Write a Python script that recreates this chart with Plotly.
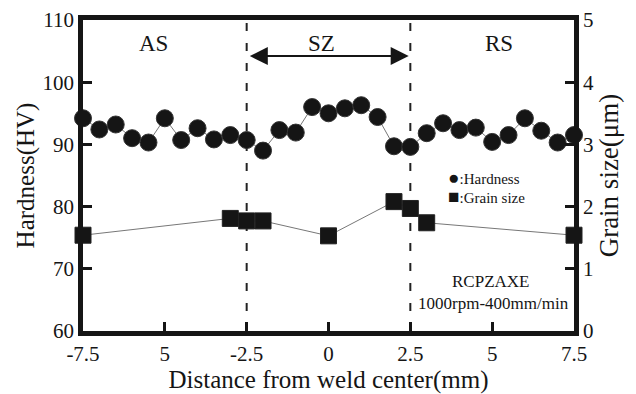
import plotly.graph_objects as go

# ---- data ----
hardness_x = [-7.5, -7.0, -6.5, -6.0, -5.5, -5.0, -4.5, -4.0, -3.5, -3.0, -2.5,
              -2.0, -1.5, -1.0, -0.5, 0.0, 0.5, 1.0, 1.5, 2.0, 2.5,
              3.0, 3.5, 4.0, 4.5, 5.0, 5.5, 6.0, 6.5, 7.0, 7.5]
hardness_hv = [94.2, 92.4, 93.2, 91.0, 90.3, 94.2, 90.7, 92.6, 90.8, 91.5, 90.7,
               89.0, 92.3, 91.9, 96.0, 95.0, 95.8, 96.3, 94.4, 89.7, 89.6,
               91.8, 93.4, 92.3, 92.7, 90.4, 91.5, 94.2, 92.2, 90.3, 91.5]
grain_x = [-7.5, -3.0, -2.5, -2.0, 0.0, 2.0, 2.5, 3.0, 7.5]
grain_um = [1.54, 1.81, 1.77, 1.77, 1.53, 2.08, 1.97, 1.74, 1.54]

x_tickvals = [-7.5, -5, -2.5, 0, 2.5, 5, 7.5]
x_ticktext = ["-7.5", "5", "-2.5", "0", "2.5", "5", "7.5"]
zone_bounds = [-2.5, 2.5]
zone_labels = ["AS", "SZ", "RS"]
zone_label_x = [-5.35, -0.2, 5.2]

FONT = "Liberation Serif"
INK = "#151515"

fig = go.Figure()
fig.add_trace(go.Scatter(
    x=hardness_x, y=hardness_hv, mode="lines+markers", name="Hardness",
    line=dict(color="#777777", width=1),
    marker=dict(symbol="circle", size=17, color=INK, line=dict(color="#333333", width=1)),
    cliponaxis=False, yaxis="y"))
fig.add_trace(go.Scatter(
    x=grain_x, y=grain_um, mode="lines+markers", name="Grain size",
    line=dict(color="#777777", width=1),
    marker=dict(symbol="square", size=16, color=INK, line=dict(color="#222222", width=1)),
    cliponaxis=False, yaxis="y2"))

shapes = []
for xb in zone_bounds:
    shapes.append(dict(type="line", xref="x", yref="paper", x0=xb, x1=xb, y0=0, y1=1,
                       line=dict(color="#222222", width=2, dash="8px,12px"), layer="below"))

annotations = []
for lab, lx in zip(zone_labels, zone_label_x):
    annotations.append(dict(x=lx, y=106.2, xref="x", yref="y", text=lab, showarrow=False,
                            font=dict(family=FONT, size=23, color=INK)))
# double-headed arrow across the stir zone
annotations.append(dict(x=2.45, y=104.2, ax=-2.45, ay=104.2, xref="x", yref="y",
                        axref="x", ayref="y", text="", showarrow=True, arrowside="end+start",
                        arrowhead=2, arrowsize=1.8, arrowwidth=2, arrowcolor=INK))
annotations.append(dict(x=3.6, y=84.6, xref="x", yref="y",
                        text="<span style='font-size:19px'>●</span>:Hardness", xanchor="left",
                        showarrow=False, font=dict(family=FONT, size=15, color=INK)))
annotations.append(dict(x=3.6, y=81.7, xref="x", yref="y",
                        text="<span style='font-size:19px'>■</span>:Grain size", xanchor="left",
                        showarrow=False, font=dict(family=FONT, size=15, color=INK)))
annotations.append(dict(x=4.95, y=68.0, xref="x", yref="y", text="RCPZAXE",
                        showarrow=False, font=dict(family=FONT, size=17, color=INK)))
annotations.append(dict(x=5.05, y=64.5, xref="x", yref="y", text="1000rpm-400mm/min",
                        showarrow=False, font=dict(family=FONT, size=17, color=INK)))

axis_common = dict(showline=True, linecolor=INK, linewidth=4.5, ticks="inside",
                   ticklen=9, tickwidth=2.5, tickcolor=INK, showgrid=False, zeroline=False,
                   automargin=False,
                   tickfont=dict(family=FONT, size=21, color=INK))

# the page body adds an 8px offset; margins compensate so the frame lands where the reference has it
fig.update_layout(
    width=636, height=394, paper_bgcolor="white", plot_bgcolor="white",
    margin=dict(l=75, r=70, t=12, b=71),
    showlegend=False,
    xaxis=dict(range=[-7.5, 7.5], tickvals=x_tickvals, ticktext=x_ticktext, mirror=True,
               title=dict(text="Distance from weld center(mm)", standoff=4,
                          font=dict(family=FONT, size=25, color=INK)),
               **axis_common),
    yaxis=dict(range=[60, 110], tickvals=[60, 70, 80, 90, 100, 110], mirror=True,
               title=dict(text="Hardness(HV)", standoff=2,
                          font=dict(family=FONT, size=25, color=INK)),
               **axis_common),
    yaxis2=dict(range=[0, 5], tickvals=[0, 1, 2, 3, 4, 5], overlaying="y", side="right",
                title=dict(text="Grain size(μm)", standoff=0,
                           font=dict(family=FONT, size=27, color=INK)),
                **axis_common),
    shapes=shapes, annotations=annotations,
)

fig.write_html("out.html")
